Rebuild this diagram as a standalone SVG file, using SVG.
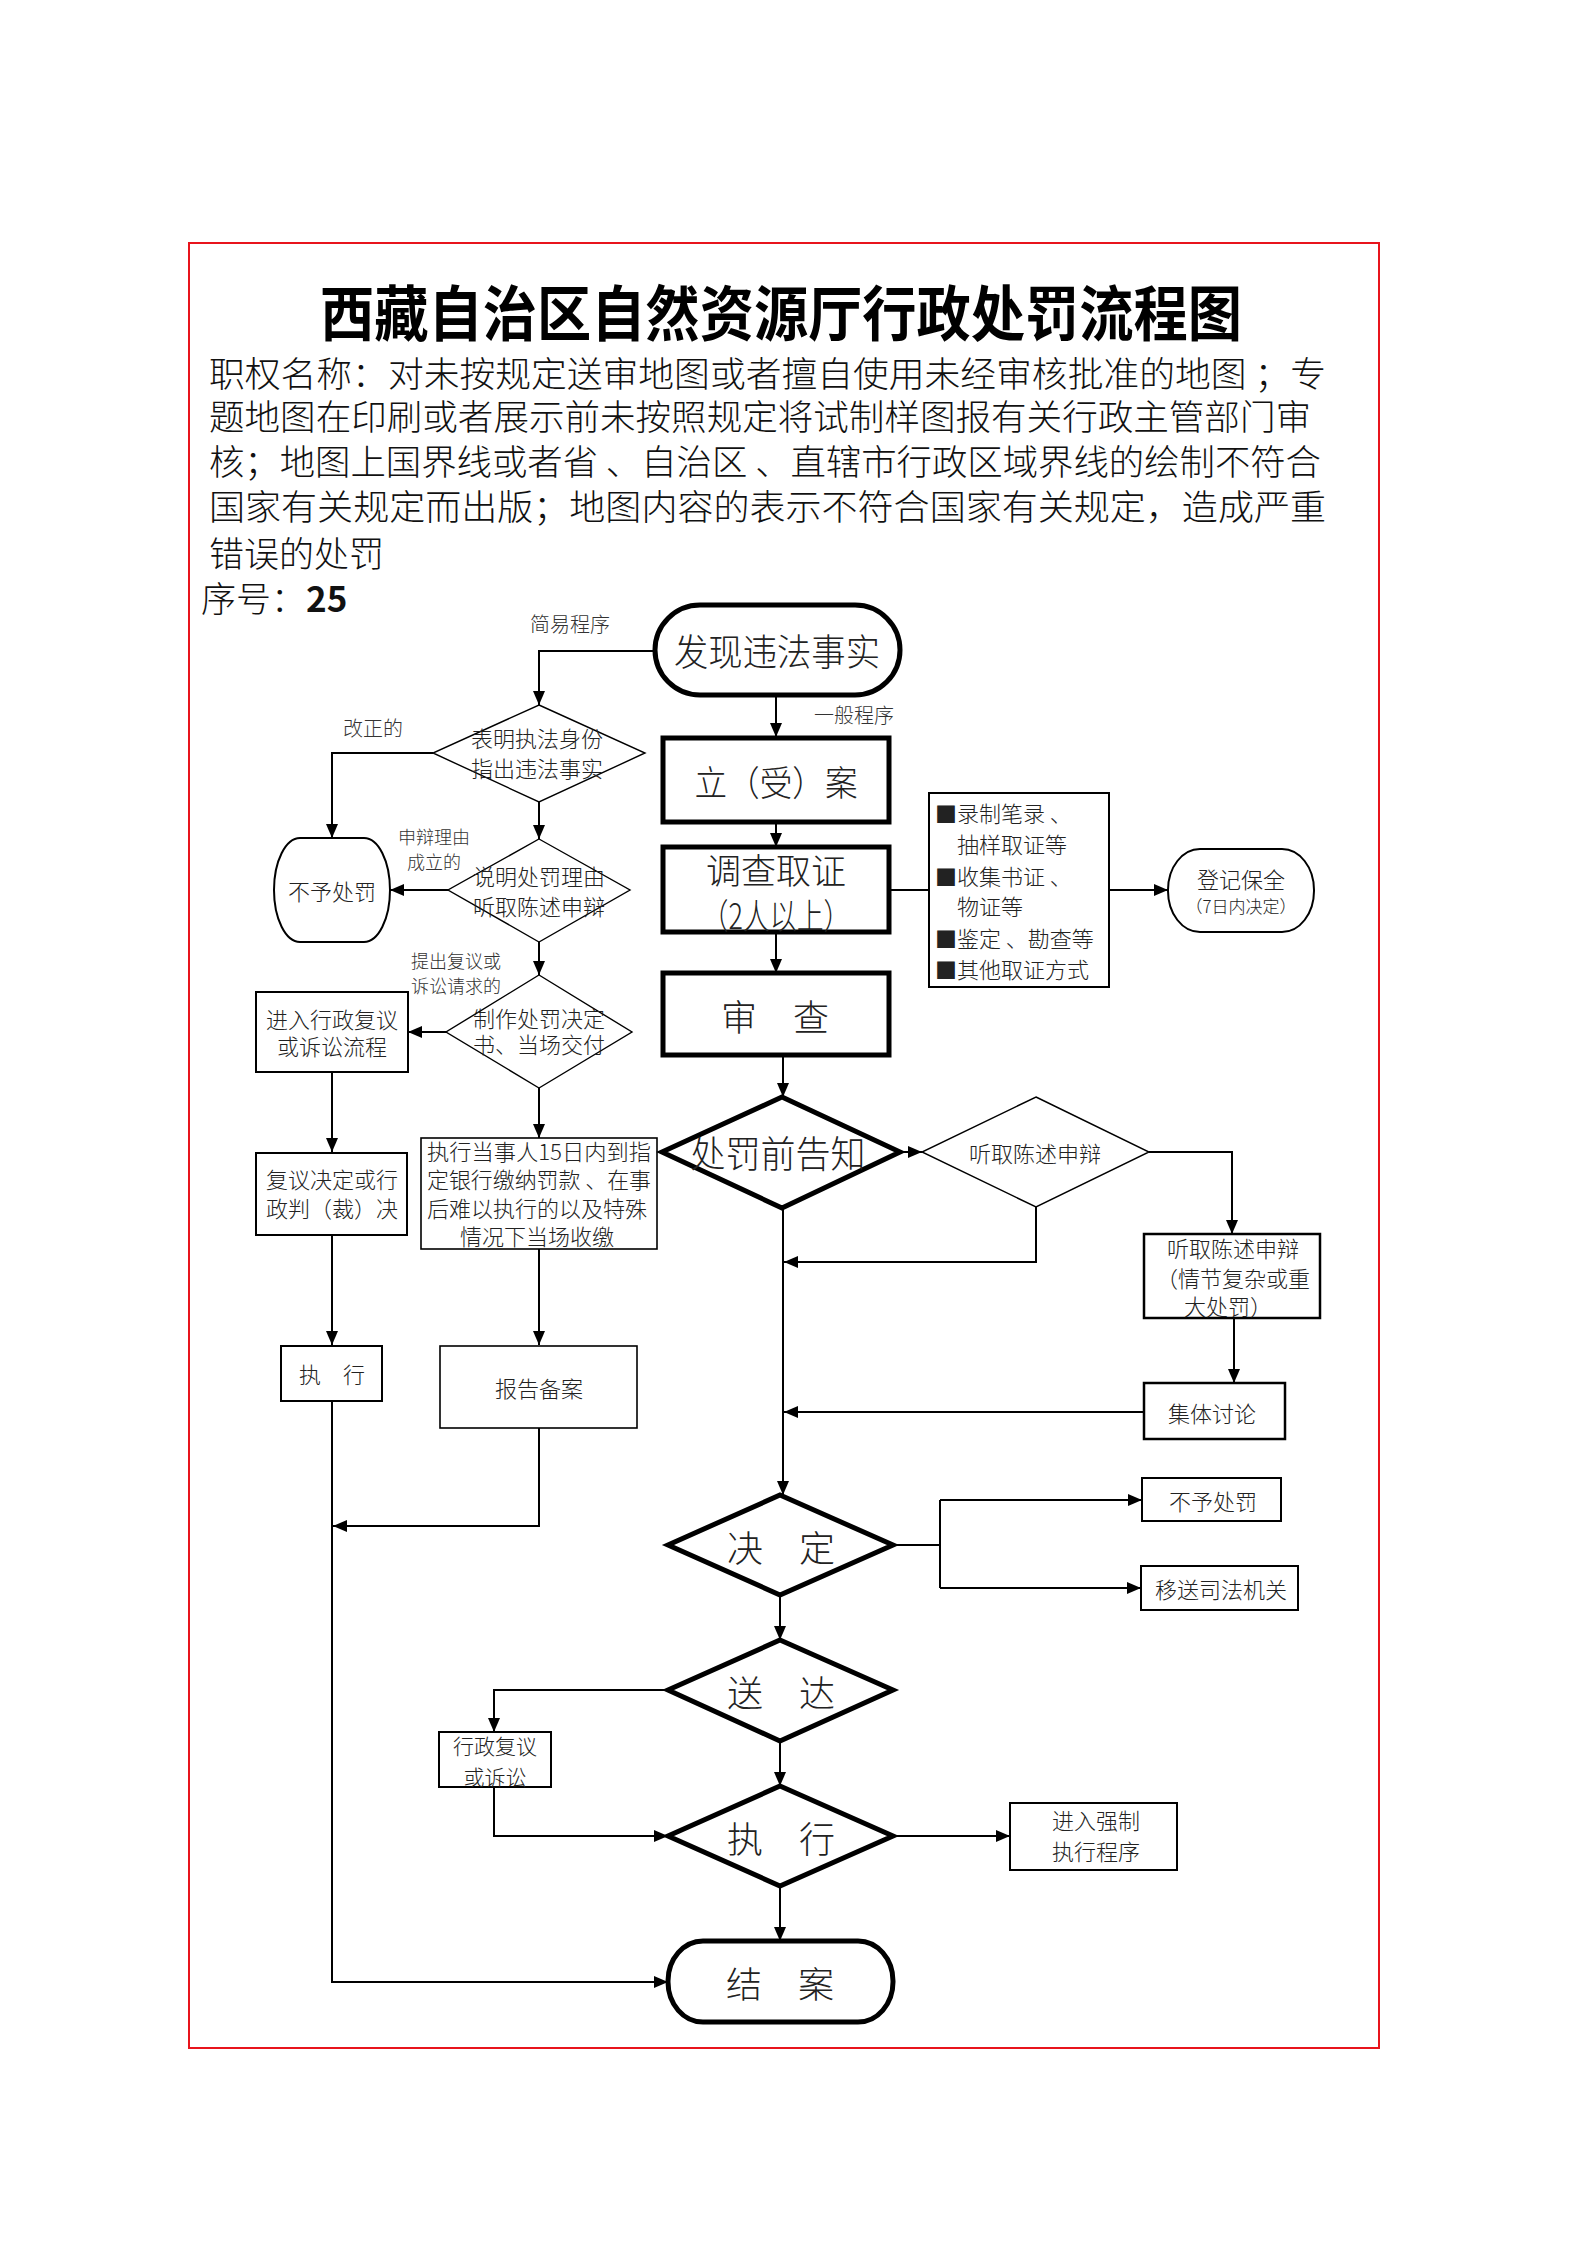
<svg xmlns="http://www.w3.org/2000/svg" width="1587" height="2245" viewBox="0 0 1587 2245">
<style>
text{font-family:"Noto Sans CJK SC","Noto Sans",sans-serif;fill:#222;}
.t{font-size:22px;font-weight:300;text-anchor:middle;dominant-baseline:central;}
.s{font-size:18px;font-weight:300;text-anchor:middle;dominant-baseline:central;fill:#333;}
.l{font-size:20px;font-weight:300;text-anchor:middle;dominant-baseline:central;fill:#333;}
.b{font-size:36px;font-weight:300;text-anchor:middle;dominant-baseline:central;}
.p{font-size:35px;font-weight:300;dominant-baseline:central;fill:#111;}
.thick{fill:#fff;stroke:#000;stroke-width:5;}
.thin{fill:#fff;stroke:#000;stroke-width:1.4;}
.box{fill:#fff;stroke:#000;stroke-width:2;}
.c{fill:none;stroke:#000;stroke-width:2;}
.ca{fill:none;stroke:#000;stroke-width:2;marker-end:url(#ah);}
</style>
<defs>
<marker id="ah" markerUnits="userSpaceOnUse" markerWidth="14" markerHeight="12" refX="14" refY="6" orient="auto">
<path d="M0,0 L14,6 L0,12 z" fill="#000"/>
</marker>
</defs>
<rect width="1587" height="2245" fill="#fff"/>
<rect x="189" y="243" width="1190" height="1805" fill="none" stroke="#e8141c" stroke-width="2"/>

<g id="header">
<text x="781" y="309" style="font-size:60px;font-weight:700;text-anchor:middle;dominant-baseline:central;fill:#000" textLength="922" lengthAdjust="spacingAndGlyphs">西藏自治区自然资源厅行政处罚流程图</text>
<text class="p" x="209" y="371" textLength="1117" lengthAdjust="spacingAndGlyphs">职权名称：对未按规定送审地图或者擅自使用未经审核批准的地图 ；专</text>
<text class="p" x="209" y="414" textLength="1102" lengthAdjust="spacingAndGlyphs">题地图在印刷或者展示前未按照规定将试制样图报有关行政主管部门审</text>
<text class="p" x="209" y="459" textLength="1112" lengthAdjust="spacingAndGlyphs">核；地图上国界线或者省 、自治区 、直辖市行政区域界线的绘制不符合</text>
<text class="p" x="209" y="504" textLength="1117" lengthAdjust="spacingAndGlyphs">国家有关规定而出版；地图内容的表示不符合国家有关规定，造成严重</text>
<text class="p" x="209" y="551">错误的处罚</text>
<text class="p" x="201" y="596">序号：<tspan style="font-weight:700">25</tspan></text>
</g>

<g id="connectors">
<path class="ca" d="M654,651 H539 V705"/>
<path class="ca" d="M776,696 V737"/>
<path class="ca" d="M433,753 H332 V838"/>
<path class="ca" d="M539,802 V839"/>
<path class="ca" d="M448,890 H390"/>
<path class="ca" d="M539,942 V975"/>
<path class="ca" d="M446,1032 H408"/>
<path class="ca" d="M332,1072 V1152"/>
<path class="ca" d="M332,1235 V1345"/>
<path class="ca" d="M332,1401 V1982 H668"/>
<path class="ca" d="M539,1088 V1138"/>
<path class="ca" d="M539,1249 V1345"/>
<path class="ca" d="M539,1428 V1526 H333"/>
<path class="ca" d="M776,822 V847"/>
<path class="ca" d="M776,932 V973"/>
<path class="ca" d="M783,1055 V1097"/>
<path class="c" d="M889,890 H929"/>
<path class="ca" d="M1109,890 H1168"/>
<path class="ca" d="M900,1152 H922"/>
<path class="ca" d="M1036,1207 V1262 H784"/>
<path class="ca" d="M1149,1152 H1232 V1234"/>
<path class="ca" d="M1234,1318 V1383"/>
<path class="ca" d="M1144,1412 H784"/>
<path class="ca" d="M783,1208 V1495"/>
<path class="c" d="M893,1545 H940 M940,1500 V1588"/>
<path class="ca" d="M940,1500 H1142"/>
<path class="ca" d="M940,1588 H1141"/>
<path class="ca" d="M780,1595 V1640"/>
<path class="ca" d="M668,1690 H494 V1732"/>
<path class="ca" d="M780,1741 V1786"/>
<path class="ca" d="M494,1787 V1836 H668"/>
<path class="ca" d="M893,1836 H1010"/>
<path class="ca" d="M780,1886 V1941"/>
</g>

<g id="labels">
<text class="l" x="570" y="623">简易程序</text>
<text class="l" x="854" y="714">一般程序</text>
<text class="l" x="373" y="727">改正的</text>
<text class="s" x="434" y="836">申辩理由</text>
<text class="s" x="434" y="861">成立的</text>
<text class="s" x="456" y="960">提出复议或</text>
<text class="s" x="456" y="985">诉讼请求的</text>
</g>

<g id="n-start">
<rect class="thick" x="655" y="605" width="245" height="90" rx="45"/>
<text class="b" x="777" y="650" style="font-size:37px" textLength="206" lengthAdjust="spacingAndGlyphs">发现违法事实</text>
</g>
<g id="n-d1">
<polygon class="thin" points="539,705 645,753 539,802 433,753"/>
<text class="t" x="537" y="737">表明执法身份</text>
<text class="t" x="537" y="767">指出违法事实</text>
</g>
<g id="n-nopunish1">
<rect class="box" x="274" y="838" width="116" height="104" rx="26" ry="52"/>
<text class="t" x="332" y="890">不予处罚</text>
</g>
<g id="n-d2">
<polygon class="thin" points="539,839 630,890 539,942 448,890"/>
<text class="t" x="539" y="875">说明处罚理由</text>
<text class="t" x="539" y="905">听取陈述申辩</text>
</g>
<g id="n-d3">
<polygon class="thin" points="539,975 632,1032 539,1088 446,1032"/>
<text class="t" x="539" y="1017">制作处罚决定</text>
<text class="t" x="539" y="1043">书、当场交付</text>
</g>
<g id="n-review">
<rect class="box" x="256" y="992" width="152" height="80"/>
<text class="t" x="332" y="1018">进入行政复议</text>
<text class="t" x="332" y="1045">或诉讼流程</text>
</g>
<g id="n-reviewdec">
<rect class="box" x="256" y="1153" width="151" height="82"/>
<text class="t" x="332" y="1178">复议决定或行</text>
<text class="t" x="332" y="1207">政判（裁）决</text>
</g>
<g id="n-exec1">
<rect class="box" x="281" y="1346" width="101" height="55"/>
<text class="t" x="332" y="1373">执　行</text>
</g>
<g id="n-pay">
<rect class="box" x="421" y="1138" width="236" height="111" style="stroke-width:1.6"/>
<text class="t" x="539" y="1150" textLength="224" lengthAdjust="spacingAndGlyphs">执行当事人15日内到指</text>
<text class="t" x="539" y="1178" textLength="224" lengthAdjust="spacingAndGlyphs">定银行缴纳罚款 、在事</text>
<text class="t" x="537" y="1207">后难以执行的以及特殊</text>
<text class="t" x="537" y="1235">情况下当场收缴</text>
</g>
<g id="n-report">
<rect class="box" x="440" y="1346" width="197" height="82" style="stroke-width:1.6"/>
<text class="t" x="539" y="1387">报告备案</text>
</g>
<g id="n-case">
<rect class="thick" x="663" y="738" width="226" height="84"/>
<text class="b" x="776" y="780" style="font-size:35px" textLength="163" lengthAdjust="spacingAndGlyphs">立（受）案</text>
</g>
<g id="n-invest">
<rect class="thick" x="663" y="847" width="226" height="85"/>
<text class="b" x="776" y="868" style="font-size:35px">调查取证</text>
<text class="b" x="776" y="913" style="font-size:35px" textLength="149" lengthAdjust="spacingAndGlyphs">（2人以上）</text>
</g>
<g id="n-check">
<rect class="thick" x="663" y="973" width="226" height="82"/>
<text class="b" x="775" y="1015">审　查</text>
</g>
<g id="n-evidence">
<rect class="box" x="929" y="793" width="180" height="194"/>
<text class="t" x="935" y="812" style="text-anchor:start">■录制笔录 、</text>
<text class="t" x="957" y="843" style="text-anchor:start">抽样取证等</text>
<text class="t" x="935" y="875" style="text-anchor:start">■收集书证 、</text>
<text class="t" x="957" y="905" style="text-anchor:start">物证等</text>
<text class="t" x="935" y="937" style="text-anchor:start">■鉴定 、勘查等</text>
<text class="t" x="935" y="968" style="text-anchor:start">■其他取证方式</text>
</g>
<g id="n-preserve">
<rect class="box" x="1168" y="849" width="146" height="83" rx="32" ry="41"/>
<text class="t" x="1241" y="878">登记保全</text>
<text class="t" x="1241" y="905" style="font-size:17px">（7日内决定）</text>
</g>
<g id="n-notice">
<polygon class="thick" points="782,1097 900,1152 782,1208 662,1152"/>
<text class="b" x="778" y="1152" style="font-size:37px" textLength="175" lengthAdjust="spacingAndGlyphs">处罚前告知</text>
</g>
<g id="n-hear">
<polygon class="thin" points="1036,1097 1149,1152 1036,1207 922,1152"/>
<text class="t" x="1035" y="1152">听取陈述申辩</text>
</g>
<g id="n-hearing">
<rect class="box" x="1144" y="1234" width="176" height="84" style="stroke-width:2.5"/>
<text class="t" x="1233" y="1247">听取陈述申辩</text>
<text class="t" x="1233" y="1277">（情节复杂或重</text>
<text class="t" x="1228" y="1305">大处罚）</text>
</g>
<g id="n-discuss">
<rect class="box" x="1144" y="1383" width="141" height="56" style="stroke-width:2.5"/>
<text class="t" x="1212" y="1412">集体讨论</text>
</g>
<g id="n-decide">
<polygon class="thick" points="780,1495 893,1545 780,1595 668,1545"/>
<text class="b" x="781" y="1546">决　定</text>
</g>
<g id="n-nopunish2">
<rect class="box" x="1142" y="1478" width="139" height="43"/>
<text class="t" x="1213" y="1500">不予处罚</text>
</g>
<g id="n-transfer">
<rect class="box" x="1141" y="1566" width="157" height="44"/>
<text class="t" x="1221" y="1588">移送司法机关</text>
</g>
<g id="n-deliver">
<polygon class="thick" points="780,1640 893,1690 780,1741 668,1690"/>
<text class="b" x="781" y="1691">送　达</text>
</g>
<g id="n-review2">
<rect class="box" x="439" y="1732" width="112" height="55"/>
<text class="t" x="495" y="1745" style="font-size:21px">行政复议</text>
<text class="t" x="495" y="1776" style="font-size:21px">或诉讼</text>
</g>
<g id="n-exec2">
<polygon class="thick" points="780,1786 893,1836 780,1886 668,1836"/>
<text class="b" x="781" y="1837">执　行</text>
</g>
<g id="n-force">
<rect class="box" x="1010" y="1803" width="167" height="67"/>
<text class="t" x="1096" y="1819">进入强制</text>
<text class="t" x="1096" y="1850">执行程序</text>
</g>
<g id="n-close">
<rect class="thick" x="668" y="1941" width="225" height="81" rx="35" ry="40"/>
<text class="b" x="780" y="1982">结　案</text>
</g>
</svg>
